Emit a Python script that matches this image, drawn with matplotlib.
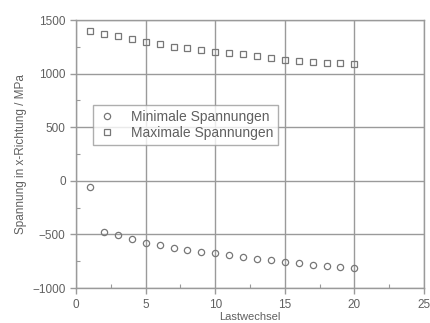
import matplotlib
matplotlib.use("Agg")
import matplotlib.pyplot as plt
from matplotlib.ticker import MultipleLocator

plt.rcParams['font.family'] = ['Liberation Sans', 'DejaVu Sans']

lastwechsel = list(range(1, 21))
min_spannung = [-60, -475, -505, -545, -575, -600, -628, -645, -662, -677,
                -693, -708, -724, -740, -755, -765, -780, -795, -802, -815]
max_spannung = [1400, 1370, 1350, 1322, 1298, 1276, 1252, 1236, 1220, 1203,
                1190, 1183, 1160, 1142, 1127, 1120, 1105, 1097, 1095, 1088]

grey = '#9a9a9a'
text_grey = '#606060'

fig = plt.figure(figsize=(4.3, 3.23), dpi=100)
ax = fig.add_axes([0.177, 0.108, 0.809, 0.830])

ax.plot(lastwechsel, min_spannung, linestyle='none', marker='o', markersize=4.5,
        markerfacecolor='none', markeredgecolor='#777777', markeredgewidth=0.9,
        label='Minimale Spannungen')
ax.plot(lastwechsel, max_spannung, linestyle='none', marker='s', markersize=4.0,
        markerfacecolor='none', markeredgecolor='#777777', markeredgewidth=0.9,
        label='Maximale Spannungen')

ax.set_xlim(0, 25)
ax.set_ylim(-1000, 1500)
ax.xaxis.set_major_locator(MultipleLocator(5))
ax.xaxis.set_minor_locator(MultipleLocator(2.5))
ax.yaxis.set_major_locator(MultipleLocator(500))
ax.yaxis.set_minor_locator(MultipleLocator(250))

ax.grid(True, which='major', color=grey, linewidth=1.0)
ax.set_axisbelow(True)
for s in ax.spines.values():
    s.set_color(grey)
    s.set_linewidth(1.0)

ax.tick_params(axis='both', which='major', direction='out', length=4,
               color=grey, labelcolor=text_grey, labelsize=8.5, width=1.0)
ax.tick_params(axis='both', which='minor', direction='in', length=3,
               color=grey, width=0.8)

ax.set_xlabel('Lastwechsel', color=text_grey, fontsize=8, labelpad=1)
ax.set_ylabel('Spannung in x-Richtung / MPa', color=text_grey, fontsize=8.5,
              labelpad=4)

leg = ax.legend(loc='upper left', bbox_to_anchor=(0.048, 0.683), fontsize=10,
                frameon=True, fancybox=False, borderpad=0.35,
                handletextpad=1.0, labelspacing=0.15, handlelength=1.4,
                borderaxespad=0.0)
leg.get_frame().set_edgecolor(grey)
leg.get_frame().set_linewidth(1.0)
for t in leg.get_texts():
    t.set_color(text_grey)

fig.savefig('out.png', dpi=100)
